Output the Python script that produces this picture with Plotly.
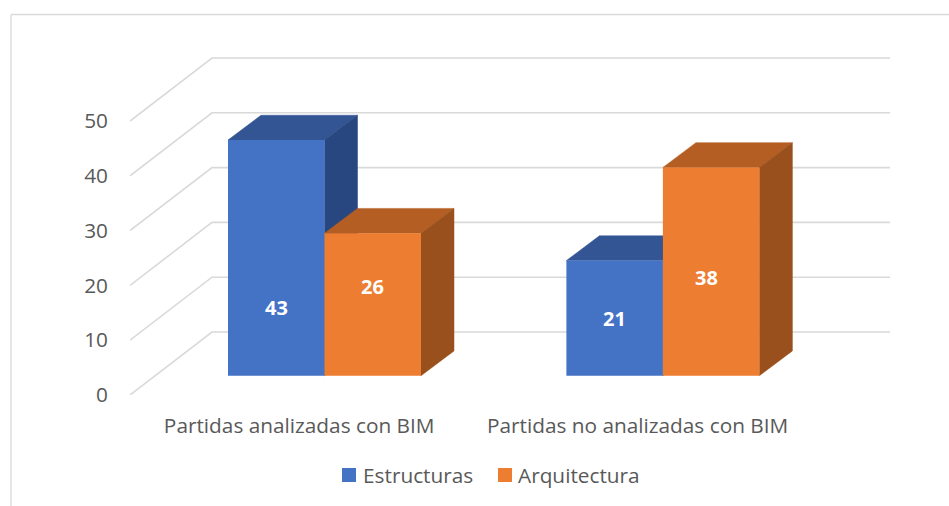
import plotly.graph_objects as go

categories = ["Partidas analizadas con BIM", "Partidas no analizadas con BIM"]
series_names = ["Estructuras", "Arquitectura"]
estructuras = [43, 21]
arquitectura = [26, 38]
y_ticks = [0, 10, 20, 30, 40, 50]

W, H = 949, 506
L, R, T, B = 130, 890, 50, 395
PX_X = 338.4   # pixels per category step
PX_Y = 5.48    # pixels per value unit

# oblique projection, in axis units
WALL_DX, WALL_DY = 82 / PX_X, 63 / PX_Y
BAR_DX, BAR_DY = 33 / PX_X, 24.8 / PX_Y
OFF_X, FLOOR = 25.3 / PX_X, 19.3 / PX_Y
BAR_W = 96.5 / PX_X
X0 = -0.5
X1 = X0 + (R - L) / PX_X
Y1 = (B - T) / PX_Y

GRID = "#d9d9d9"
TEXT = "#595959"
FONT = "Open Sans"
FS = 20.8
COLORS = {"Estructuras": ("#4472C4", "#335593", "#284680"),
          "Arquitectura": ("#ED7D31", "#B45E23", "#99501C")}

fig = go.Figure()

for v in y_ticks:
    fig.add_trace(go.Scatter(
        x=[X0, X0 + WALL_DX, X1], y=[v, v + WALL_DY, v + WALL_DY], mode="lines",
        line=dict(color=GRID, width=1.6), showlegend=False, hoverinfo="skip", zorder=0))

def face(xs, ys, color, z):
    fig.add_trace(go.Scatter(
        x=xs + xs[:1], y=ys + ys[:1], mode="lines", fill="toself", fillcolor=color,
        line=dict(color=color, width=0.5), showlegend=False, hoverinfo="skip", zorder=z))

annotations = []
# label offsets in pixels from the bar's centre: (right, down)
label_shift = {"Estructuras": [(0, 50), (0, 0)], "Arquitectura": [(0, -18), (-5, 6)]}

for s, (name, values) in enumerate(zip(series_names, [estructuras, arquitectura])):
    front, top, side = COLORS[name]
    centers = [i + OFF_X + (s - 0.5) * BAR_W for i in range(len(values))]
    for c, v in zip(centers, values):
        a, b = c - BAR_W / 2, c + BAR_W / 2
        yt = FLOOR + v
        face([a, b, b + BAR_DX, a + BAR_DX], [yt, yt, yt + BAR_DY, yt + BAR_DY], top, 2 * s + 1)
        face([b, b + BAR_DX, b + BAR_DX, b], [FLOOR, FLOOR + BAR_DY, yt + BAR_DY, yt], side, 2 * s + 1)
    fig.add_trace(go.Bar(
        x=centers, y=values, base=FLOOR, width=BAR_W, marker=dict(color=front, line_width=0),
        name=name, showlegend=False, zorder=2 * s + 2))
    for c, v, (dx, dy) in zip(centers, values, label_shift[name]):
        annotations.append(dict(
            x=c, y=FLOOR + v / 2, text=f"<b>{v}</b>", showarrow=False, xshift=dx, yshift=-dy,
            font=dict(family=FONT, size=20, color="white")))

def px_x(px):
    return (px - L) / (R - L)

def px_y(px):
    return (B - px) / (B - T)

shapes = [
    dict(type="line", xref="paper", yref="paper", x0=px_x(11), x1=px_x(W), y0=px_y(14.5), y1=px_y(14.5),
         line=dict(color=GRID, width=1.3)),
    dict(type="line", xref="paper", yref="paper", x0=px_x(11), x1=px_x(11), y0=px_y(14.5), y1=px_y(H),
         line=dict(color=GRID, width=1.3)),
]

# legend: swatch and real text placed as in the reference
for name, sx, tx in zip(series_names, [342, 498], [362, 517]):
    shapes.append(dict(type="rect", xref="paper", yref="paper", x0=px_x(sx), x1=px_x(sx + 14),
                       y0=px_y(482), y1=px_y(468), fillcolor=COLORS[name][0], line_width=0))
    annotations.append(dict(xref="paper", yref="paper", x=px_x(tx), y=px_y(475), xanchor="left", yanchor="middle",
                            text=name, showarrow=False, xshift=-1, font=dict(family=FONT, size=FS, color=TEXT)))

fig.update_layout(
    width=W, height=H, autosize=False, showlegend=False,
    margin=dict(l=L, r=W - R, t=T, b=H - B, pad=0, autoexpand=False),
    paper_bgcolor="white", plot_bgcolor="white",
    barmode="overlay",
    font=dict(family=FONT, size=FS, color=TEXT),
    xaxis=dict(range=[X0, X1], tickvals=[0, 1], ticktext=categories, showgrid=False, zeroline=False, automargin=False,
               showline=False, ticks="", ticklabelstandoff=16, tickfont=dict(size=FS, color=TEXT)),
    yaxis=dict(range=[0, Y1], tickvals=y_ticks, showgrid=False, zeroline=False, showline=False, automargin=False,
               ticks="", ticklabelstandoff=21, tickfont=dict(size=FS, color=TEXT)),
    annotations=annotations, shapes=shapes,
)

fig.write_html("out.html", config={"displayModeBar": False},
               post_script="document.body.style.margin='0';document.documentElement.style.overflow='hidden';")
